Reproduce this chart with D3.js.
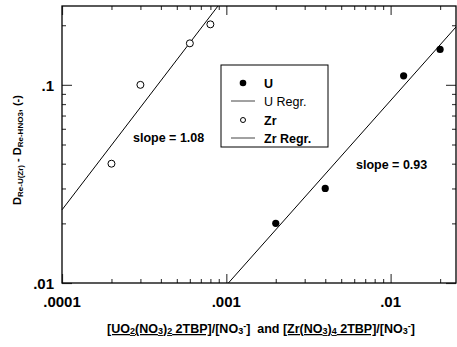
<!DOCTYPE html>
<html>
<head>
<meta charset="utf-8">
<script src="https://cdn.jsdelivr.net/npm/d3@7"></script>
<style>
  body { margin: 0; background: #fff; }
  text { font-family: "Liberation Sans", Arial, sans-serif; white-space: pre; }
</style>
</head>
<body>
<div id="wrapper"></div>
<script>
// data
let uX = [0.002, 0.004, 0.012, 0.020]
let uY = [0.020, 0.030, 0.111, 0.151]
let zrX = [0.0002, 0.0003, 0.0006, 0.0008]
let zrY = [0.040, 0.100, 0.162, 0.202]

// regression lines (end points)
let uRegX = [0.00103, 0.025]
let uRegY = [0.010, 0.196]
let zrRegX = [0.0001, 0.00089]
let zrRegY = [0.0234, 0.25]

let xTickVals = [0.0001, 0.001, 0.01]
let xTickLabels = [".0001", ".001", ".01"]
let yTickVals = [0.01, 0.1]
let yTickLabels = [".01", ".1"]

let slopeLabels = ["slope = 1.08", "slope = 0.93"]
let legendLabels = ["U", "U Regr.", "Zr", "Zr Regr."]

function drawChart() {
    let dimensions = {
        width: 457,
        height: 347,
        margin: { top: 6, right: 1, bottom: 64, left: 62 }
    }
    let w = dimensions.width - dimensions.margin.left - dimensions.margin.right
    let h = dimensions.height - dimensions.margin.top - dimensions.margin.bottom

    let svg = d3.select("#wrapper")
        .append("svg")
        .attr("width", dimensions.width)
        .attr("height", dimensions.height)
        .append("g")
        .attr("transform", "translate(" + dimensions.margin.left + "," + dimensions.margin.top + ")")

    let x = d3.scaleLog().domain([0.0001, 0.025]).range([0, w])
    let y = d3.scaleLog().domain([0.01, 0.25]).range([h, 0])

    // minor ticks 2..9 of each decade within domain
    let minorX = []
    let minorY = []
    for (let d of [0.0001, 0.001, 0.01]) for (let k = 2; k <= 9; k++) {
        let v = d * k
        if (v <= 0.025) minorX.push(v)
    }
    for (let d of [0.01, 0.1]) for (let k = 2; k <= 9; k++) {
        let v = d * k
        if (v <= 0.25) minorY.push(v)
    }

    function tickAxis(axisFn, scale, vals, size, pos) {
        let g = svg.append("g")
            .attr("transform", pos)
            .call(axisFn(scale).tickValues(vals).tickSize(size).tickFormat(""))
        g.select(".domain").remove()
        g.selectAll("line").attr("stroke", "#444").attr("stroke-width", 1.2)
        return g
    }
    // bottom / top
    tickAxis(d3.axisBottom, x, xTickVals, -9, `translate(0,${h})`)
    tickAxis(d3.axisBottom, x, minorX, -4, `translate(0,${h})`)
    tickAxis(d3.axisTop, x, xTickVals, -9, "translate(0,0)")
    tickAxis(d3.axisTop, x, minorX, -4, "translate(0,0)")
    // left / right
    tickAxis(d3.axisLeft, y, yTickVals, -10, "translate(0,0)")
    tickAxis(d3.axisLeft, y, minorY, -4, "translate(0,0)")
    tickAxis(d3.axisRight, y, yTickVals, -10, `translate(${w},0)`)
    tickAxis(d3.axisRight, y, minorY, -4, `translate(${w},0)`)

    // frame
    svg.append("rect")
        .attr("x", 0).attr("y", 0)
        .attr("width", w).attr("height", h)
        .attr("fill", "none")
        .attr("stroke", "black")
        .attr("stroke-width", 1.3)

    // tick labels
    svg.selectAll(".xlab")
        .data(xTickVals)
        .enter().append("text")
        .attr("x", d => x(d))
        .attr("y", h + 24)
        .attr("text-anchor", "middle")
        .style("font-size", "15px").style("font-weight", "bold")
        .text((d, i) => xTickLabels[i])

    svg.selectAll(".ylab")
        .data(yTickVals)
        .enter().append("text")
        .attr("x", -8)
        .attr("y", d => y(d) + 6)
        .attr("text-anchor", "end")
        .style("font-size", "15px").style("font-weight", "bold")
        .text((d, i) => yTickLabels[i])

    // regression lines
    let line = d3.line().x(d => x(d[0])).y(d => y(d[1]))
    svg.append("path")
        .attr("d", line(d3.zip(zrRegX, zrRegY)))
        .attr("fill", "none").attr("stroke", "black").attr("stroke-width", 1)
    svg.append("path")
        .attr("d", line(d3.zip(uRegX, uRegY)))
        .attr("fill", "none").attr("stroke", "black").attr("stroke-width", 1)

    // points
    svg.selectAll(".zr")
        .data(d3.zip(zrX, zrY))
        .enter().append("circle")
        .attr("cx", d => x(d[0])).attr("cy", d => y(d[1]))
        .attr("r", 3.5)
        .attr("fill", "white").attr("stroke", "black").attr("stroke-width", 1)
    svg.selectAll(".u")
        .data(d3.zip(uX, uY))
        .enter().append("circle")
        .attr("cx", d => x(d[0])).attr("cy", d => y(d[1]))
        .attr("r", 3.6)
        .attr("fill", "black")

    // slope labels
    svg.append("text")
        .attr("x", 71).attr("y", 136)
        .style("font-size", "12.5px").style("font-weight", "bold")
        .text(slopeLabels[0])
    svg.append("text")
        .attr("x", 294).attr("y", 163)
        .style("font-size", "12.5px").style("font-weight", "bold")
        .text(slopeLabels[1])

    // legend
    let lg = svg.append("g").attr("transform", "translate(159,59)")
    lg.append("rect")
        .attr("width", 107).attr("height", 82)
        .attr("fill", "white").attr("stroke", "black").attr("stroke-width", 1)
    let rowY = [18, 36, 55, 73]
    lg.append("circle").attr("cx", 22).attr("cy", rowY[0]).attr("r", 3.3).attr("fill", "black")
    lg.append("line").attr("x1", 10).attr("x2", 34).attr("y1", rowY[1]).attr("y2", rowY[1]).attr("stroke", "#444")
    lg.append("circle").attr("cx", 22).attr("cy", rowY[2]).attr("r", 2.5).attr("fill", "white").attr("stroke", "black")
    lg.append("line").attr("x1", 10).attr("x2", 34).attr("y1", rowY[3]).attr("y2", rowY[3]).attr("stroke", "#444")
    lg.selectAll(".lt")
        .data(legendLabels)
        .enter().append("text")
        .attr("x", 43)
        .attr("y", (d, i) => rowY[i] + 4.5)
        .style("font-size", "12.5px")
        .style("font-weight", (d, i) => i == 1 ? "normal" : "bold")
        .text(d => d)

    // y axis title
    let yt = svg.append("text")
        .attr("transform", `translate(${-41},${144}) rotate(-90)`)
        .attr("text-anchor", "middle")
        .style("font-size", "11px").style("font-weight", "bold")
    yt.append("tspan").text("D")
    yt.append("tspan").attr("dy", 1.5).style("font-size", "8px").text("Re-U(Zr)")
    yt.append("tspan").attr("dy", -1.5).text(" - D")
    yt.append("tspan").attr("dy", 1.5).style("font-size", "8px").text("Re-HNO3")
    yt.append("tspan").attr("dy", -1.5).text(", (-)")

    // x axis title: [text, 0 normal / 1 sub / 2 sup, underline]
    let xt = svg.append("text")
        .attr("x", w / 2 + 2).attr("y", h + 50)
        .attr("text-anchor", "middle")
        .style("font-size", "12.5px").style("font-weight", "bold")
    let parts = [
        ["[UO", 0, 1], ["2", 1, 1], ["(NO", 0, 1], ["3", 1, 1], [")", 0, 1], ["2", 1, 1], [" 2TBP]", 0, 1],
        ["/[NO", 0, 0], ["3", 1, 0], ["-", 2, 0], ["]  and ", 0, 0],
        ["[Zr(NO", 0, 1], ["3", 1, 1], [")", 0, 1], ["4", 1, 1], [" 2TBP]", 0, 1],
        ["/[NO", 0, 0], ["3", 1, 0], ["-", 2, 0], ["]", 0, 0]
    ]
    let shift = 0
    parts.forEach(p => {
        let target = p[1] == 1 ? 1 : p[1] == 2 ? -4 : 0
        let t = xt.append("tspan").attr("dy", target - shift).text(p[0])
        shift = target
        if (p[1] > 0) t.style("font-size", "9px")
        if (p[2]) t.style("text-decoration", "underline")
    })
}

drawChart()
</script>
</body>
</html>
